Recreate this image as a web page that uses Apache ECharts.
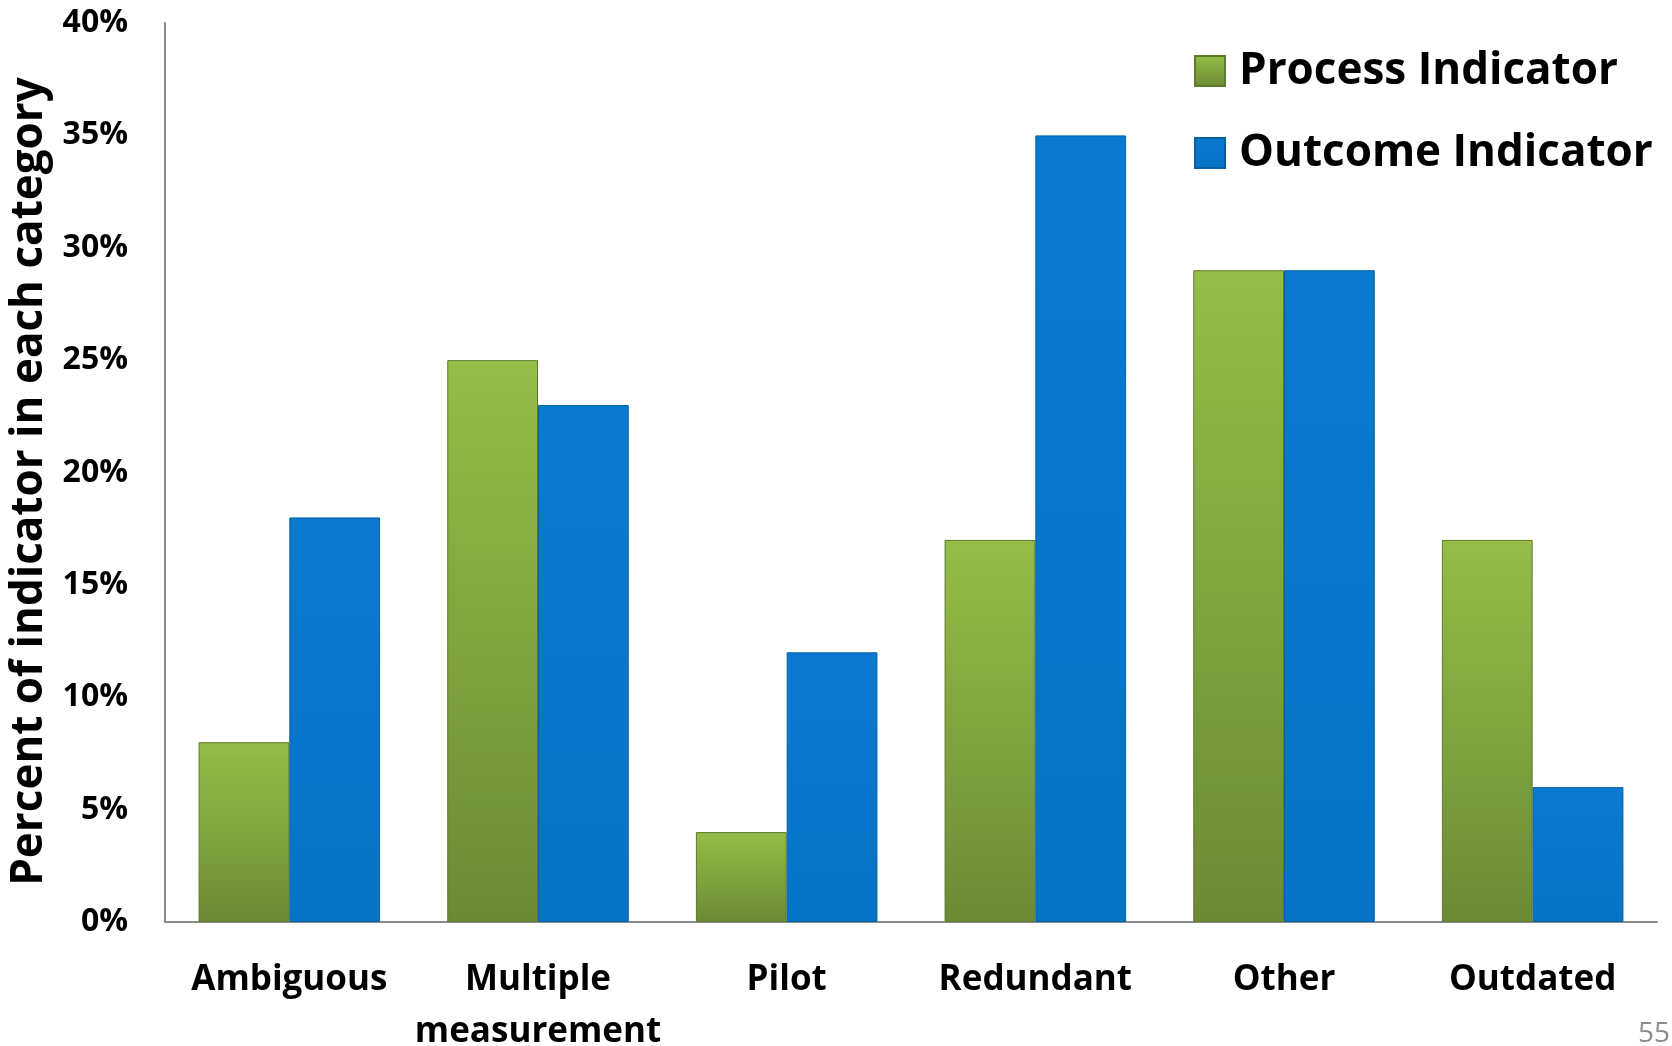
<!DOCTYPE html>
<html>
<head>
<meta charset="utf-8">
<script src="https://cdn.jsdelivr.net/npm/echarts@6/dist/echarts.min.js"></script>
<style>
html,body{margin:0;padding:0;background:#fff;}
#chart{width:1672px;height:1046px;}
</style>
</head>
<body>
<div id="chart"></div>
<script>
const categories = ['Ambiguous', 'Multiple\nmeasurement', 'Pilot', 'Redundant', 'Other', 'Outdated'];
const processValues = [8, 25, 4, 17, 29, 17];
const outcomeValues = [18, 23, 12, 35, 29, 6];
const yTicks = [0, 5, 10, 15, 20, 25, 30, 35, 40];

const FONT = 'Open Sans';
const chart = echarts.init(document.getElementById('chart'));
const green = new echarts.graphic.LinearGradient(0, 0, 0, 1, [
  {offset: 0, color: '#95bd48'},
  {offset: 1, color: '#6c8a35'}
]);
const blue = new echarts.graphic.LinearGradient(0, 0, 0, 1, [
  {offset: 0, color: '#0a7ad0'},
  {offset: 1, color: '#0673c6'}
]);
chart.setOption({
  animation: false,
  textStyle: {fontFamily: FONT},
  grid: {left: 165, top: 23, right: 15, bottom: 124, containLabel: false, outerBoundsMode: 'none'},
  legend: {
    orient: 'vertical',
    left: 1189, top: 44,
    icon: 'rect',
    itemWidth: 30, itemHeight: 30,
    itemGap: 38,
    textStyle: {fontFamily: FONT, fontSize: 44, fontWeight: 'bold', color: '#000', padding: [0,0,0,9]},
    data: ['Process Indicator', 'Outcome Indicator']
  },
  xAxis: {
    type: 'category',
    data: categories,
    axisLine: {lineStyle: {color: '#8c8c8c', width: 2}},
    axisTick: {show: false},
    axisLabel: {interval: 0, fontFamily: FONT, fontSize: 35, fontWeight: 'bold', color: '#000', margin: 32, lineHeight: 52}
  },
  yAxis: {
    type: 'value',
    min: 0, max: 40, interval: 5,
    name: 'Percent of indicator in each category',
    nameLocation: 'middle',
    nameGap: 107,
    nameTextStyle: {fontFamily: FONT, fontSize: 44, fontWeight: 'bold', color: '#000', padding: [0, 18, 0, 0]},
    axisLine: {show: true, lineStyle: {color: '#8c8c8c', width: 2}},
    axisTick: {show: false},
    splitLine: {show: false},
    axisLabel: {fontFamily: FONT, fontSize: 32, fontWeight: 'bold', color: '#000', margin: 37,
      formatter: v => yTicks.includes(v) ? v + '%' : ''}
  },
  series: [
    {name: 'Process Indicator', type: 'bar', data: processValues, barGap: '0%', barCategoryGap: '27%',
     itemStyle: {color: green, borderColor: '#5f7a2e', borderWidth: 1}},
    {name: 'Outcome Indicator', type: 'bar', data: outcomeValues, barGap: '0%', barCategoryGap: '27%',
     itemStyle: {color: blue, borderColor: '#05619f', borderWidth: 1}}
  ],
  graphic: [
    {type: 'text', right: 2, top: 1020, style: {text: '55', fontFamily: FONT, fontSize: 28, fill: '#8c8c8c'}}
  ]
});
</script>
</body>
</html>
